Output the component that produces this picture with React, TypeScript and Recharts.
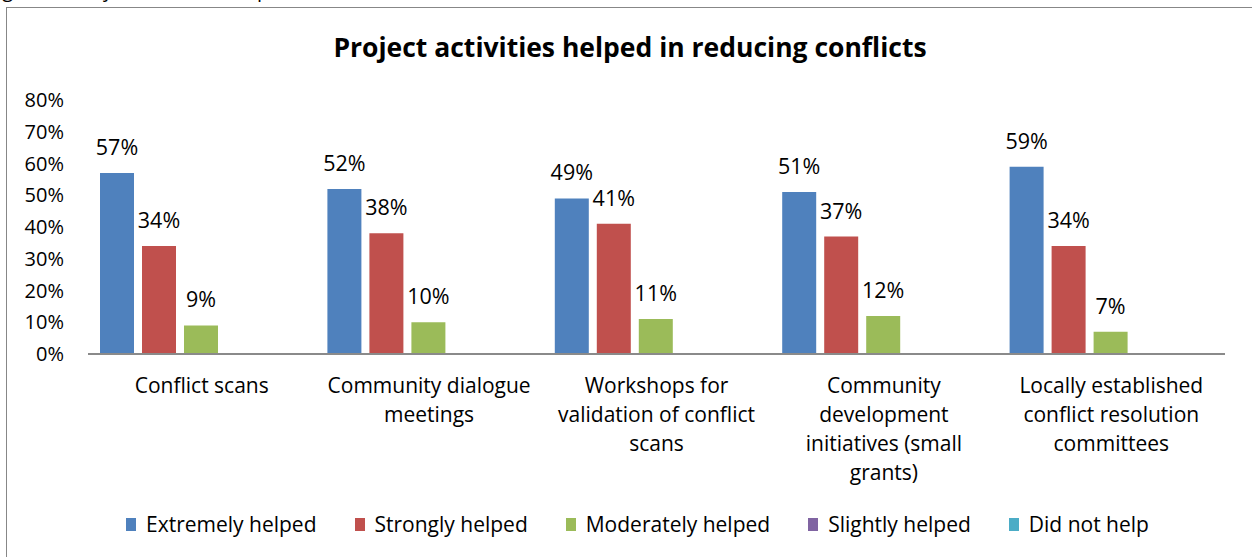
import { BarChart, Bar, XAxis, YAxis, LabelList } from 'recharts';

const categories = [
  'Conflict scans',
  'Community dialogue\nmeetings',
  'Workshops for\nvalidation of conflict\nscans',
  'Community\ndevelopment\ninitiatives (small\ngrants)',
  'Locally established\nconflict resolution\ncommittees',
];
const extremelyHelped = [57, 52, 49, 51, 59];
const stronglyHelped = [34, 38, 41, 37, 34];
const moderatelyHelped = [9, 10, 11, 12, 7];
const slightlyHelped = [0, 0, 0, 0, 0];
const didNotHelp = [0, 0, 0, 0, 0];
const yTicks = [0, 10, 20, 30, 40, 50, 60, 70, 80];

const seriesList = [
  { key: 'extremely', name: 'Extremely helped', values: extremelyHelped, color: '#4F81BD' },
  { key: 'strongly', name: 'Strongly helped', values: stronglyHelped, color: '#C0504D' },
  { key: 'moderately', name: 'Moderately helped', values: moderatelyHelped, color: '#9BBB59' },
  { key: 'slightly', name: 'Slightly helped', values: slightlyHelped, color: '#8064A2' },
  { key: 'notHelp', name: 'Did not help', values: didNotHelp, color: '#4BACC6' },
];

const data = categories.map((category, i) => {
  const row: Record<string, string | number> = { category };
  seriesList.forEach((s) => { row[s.key] = s.values[i]; });
  return row;
});

const FONT = '"Open Sans", "Liberation Sans", sans-serif';

const CategoryTick = ({ x, y, payload }: any) => {
  const lines = String(payload.value).split('\n');
  return (
    <text x={x} y={y} textAnchor="middle" fontSize={21} fontFamily={FONT} fill="#000">
      {lines.map((line, i) => (
        <tspan key={i} x={x} dy={i === 0 ? 31 : 29}>{line}</tspan>
      ))}
    </text>
  );
};

export default function App() {
  return (
    <div style={{ position: 'absolute', left: 0, top: 0, width: 1252, height: 557, overflow: 'hidden', background: '#fff' }}>
      <div style={{ position: 'absolute', left: -13, top: -24, fontFamily: FONT, fontSize: 20, color: '#000', whiteSpace: 'nowrap' }}>
        Figure 6: Project activities helped reduce conflicts
      </div>
      <div style={{ position: 'absolute', left: 6, top: 7, width: 1300, height: 600, border: '1px solid #878787' }} />
      <div style={{ position: 'absolute', left: 0, top: 29, width: 1260, textAlign: 'center', fontFamily: FONT, fontSize: 26.5, fontWeight: 700, color: '#000' }}>
        Project activities helped in reducing conflicts
      </div>
      <div style={{ position: 'absolute', left: 0, top: 0 }}>
        <BarChart
          width={1252}
          height={557}
          data={data}
          margin={{ top: 100, right: 27, left: 28, bottom: 23 }}
          barCategoryGap={12}
          barGap={8}
        >
          <XAxis
            dataKey="category"
            axisLine={{ stroke: '#8a8a8a', strokeWidth: 2 }}
            tickLine={false}
            tick={<CategoryTick />}
            interval={0}
            height={180}
          />
          <YAxis
            domain={[0, 80]}
            ticks={yTicks}
            interval={0}
            tickFormatter={(v) => `${v}%`}
            axisLine={false}
            tickLine={false}
            tickSize={0}
            tickMargin={24}
            width={60}
            tick={{ fontSize: 20, fontFamily: FONT, fill: '#000' }}
          />
          {seriesList.map((s) => (
            <Bar key={s.key} dataKey={s.key} name={s.name} fill={s.color} isAnimationActive={false}>
              <LabelList
                dataKey={s.key}
                position="top"
                offset={18}
                formatter={(v: any) => (v > 0 ? `${v}%` : '')}
                style={{ fontSize: 21.5, fontFamily: FONT, fill: '#000' }}
              />
            </Bar>
          ))}
        </BarChart>
      </div>
      <div style={{ position: 'absolute', left: 126, top: 510, display: 'flex', alignItems: 'center', fontFamily: FONT, fontSize: 21, color: '#000', whiteSpace: 'nowrap' }}>
        {seriesList.map((s) => (
          <div key={s.key} style={{ display: 'flex', alignItems: 'center', marginRight: 38 }}>
            <span style={{ width: 10, height: 13, background: s.color, marginRight: 10, display: 'inline-block' }} />
            <span>{s.name}</span>
          </div>
        ))}
      </div>
    </div>
  );
}
